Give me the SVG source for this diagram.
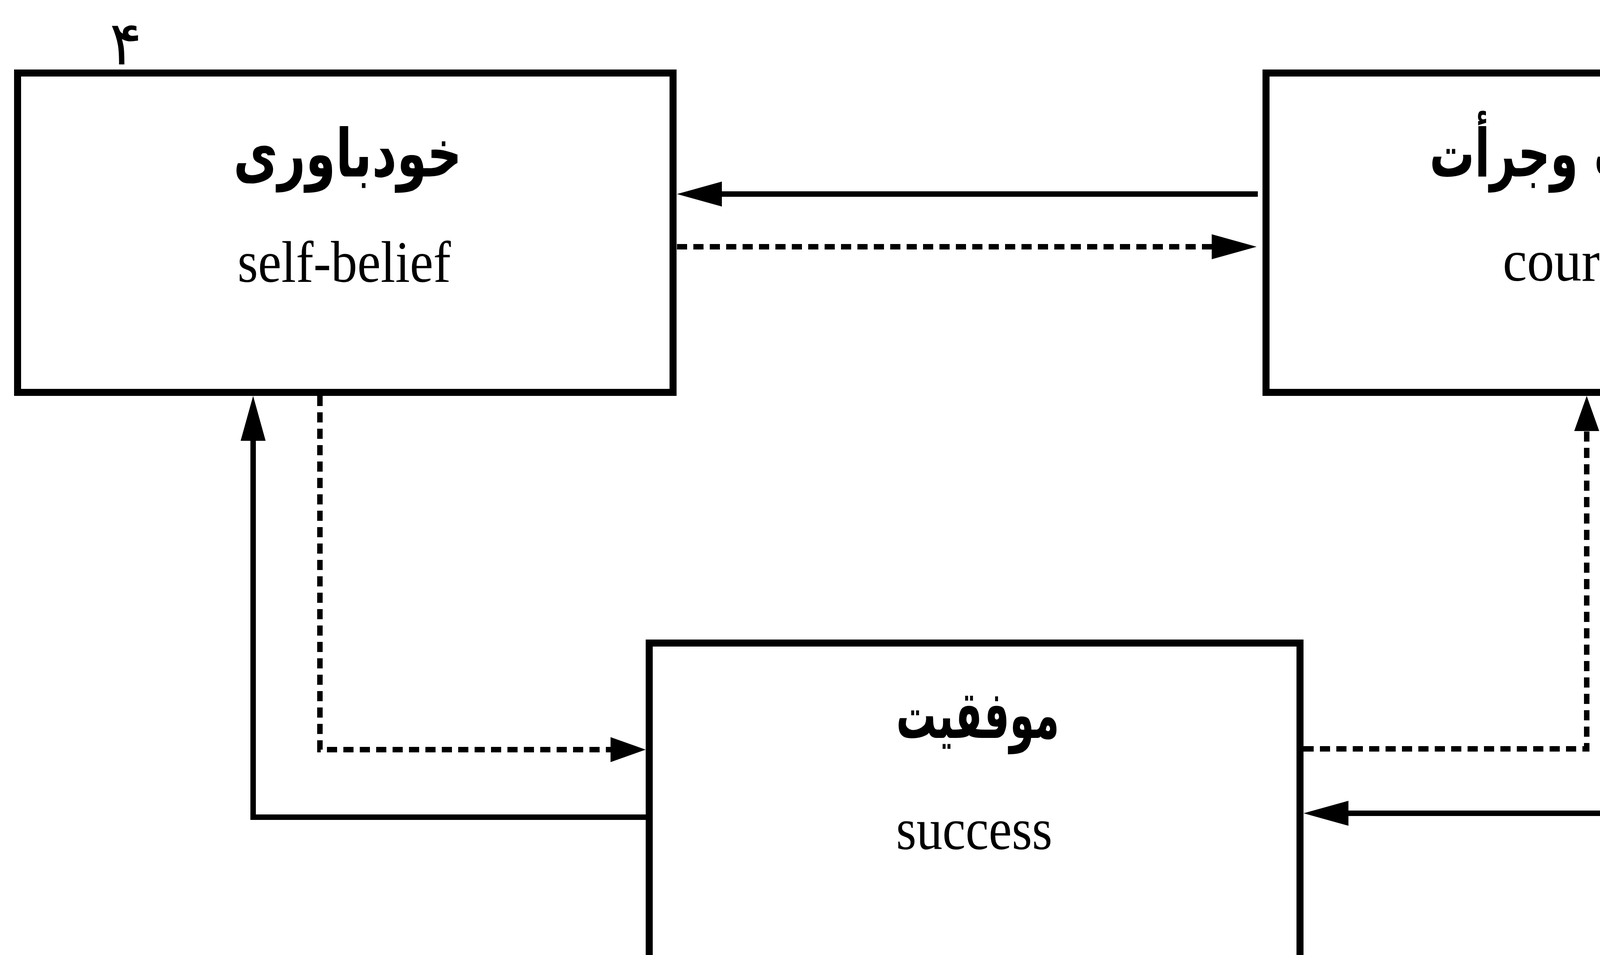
<svg xmlns="http://www.w3.org/2000/svg" width="4875" height="2446" viewBox="0 0 4875 2446">
<style>
.box{fill:#fff;stroke:#000;stroke-width:18}
.ar{font-family:"DejaVu Sans","Noto Sans",sans-serif;font-weight:bold;font-size:170px;fill:#000;text-anchor:middle}
.en{font-family:"Liberation Serif","DejaVu Serif",serif;font-size:150px;fill:#000;text-anchor:middle}
.solid{fill:none;stroke:#000;stroke-width:14}
.dot{fill:none;stroke:#000;stroke-width:14;stroke-dasharray:26 16}
</style>
<defs>
<marker id="ah" viewBox="0 0 115 64" refX="0" refY="32" markerWidth="115" markerHeight="64" markerUnits="userSpaceOnUse" orient="auto"><path d="M0,0 L115,32 L0,64 Z" fill="#000"/></marker>
<marker id="ahs" viewBox="0 0 90 64" refX="0" refY="32" markerWidth="90" markerHeight="64" markerUnits="userSpaceOnUse" orient="auto"><path d="M0,0 L90,32 L0,64 Z" fill="#000"/></marker>
</defs>
<rect width="4875" height="2446" fill="#fff"/>
<text x="322" y="165" font-family="DejaVu Sans, sans-serif" font-size="155" text-anchor="middle">۴</text>
<g id="connectors">
<path class="solid" d="M3220,497 H1848" marker-end="url(#ah)"/>
<path class="dot" d="M1733,632 H3102" marker-end="url(#ah)"/>
<path class="solid" d="M1653,2093 H648 V1129" marker-end="url(#ah)"/>
<path class="dot" d="M819,1014 V1920 H1563" marker-end="url(#ahs)"/>
<path class="dot" d="M3337,1918 H4062 V1104" marker-end="url(#ahs)"/>
<path class="solid" d="M4283,1014 V2083 H3452" marker-end="url(#ah)"/>
</g>
<g id="node-selfbelief">
<rect class="box" x="45" y="187" width="1678" height="818"/>
<text class="ar" x="890" y="452" textLength="585" lengthAdjust="spacingAndGlyphs">خودباوری</text>
<text class="en" x="881" y="722" textLength="546" lengthAdjust="spacingAndGlyphs">self-belief</text>
</g>
<g id="node-courage">
<path class="box" d="M4875,187 H3241 V1005 H4875"/>
<text class="ar" x="4082" y="452" textLength="845" lengthAdjust="spacingAndGlyphs">شهامت وجرأت</text>
<text class="en" x="4068" y="719" textLength="442" lengthAdjust="spacingAndGlyphs">courage</text>
</g>
<g id="node-success">
<path class="box" d="M1662,2446 V1647 H3328 V2446"/>
<text class="ar" x="2503" y="1890" textLength="418" lengthAdjust="spacingAndGlyphs">موفقیت</text>
<text class="en" x="2494" y="2175" textLength="400" lengthAdjust="spacingAndGlyphs">success</text>
</g>
</svg>
